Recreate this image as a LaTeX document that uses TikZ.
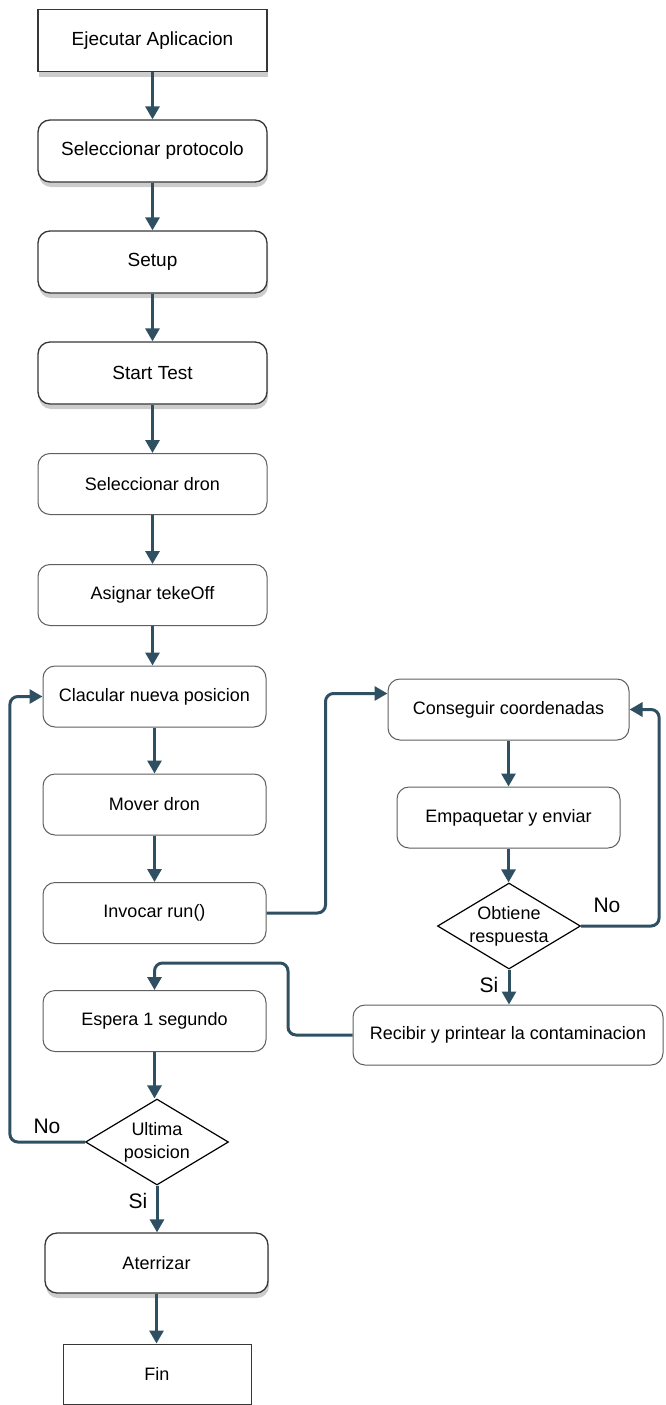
\documentclass[tikz,border=0pt]{standalone}
\usepackage{fontspec}
\setmainfont{Liberation Sans}
\usetikzlibrary{shapes.geometric,arrows.meta,shadows}

\definecolor{flowblue}{RGB}{47,79,99}
\definecolor{boxline}{RGB}{55,55,55}
\definecolor{softline}{RGB}{95,95,95}

\begin{document}
\begin{tikzpicture}[x=1pt,y=-1pt,
  every node/.style={font=\fontsize{18}{23}\selectfont},
  topbox/.style={draw=boxline, line width=1.3pt, fill=white, rounded corners=12pt,
    minimum width=229pt, minimum height=62pt, font=\fontsize{19}{23}\selectfont,
    drop shadow={shadow xshift=1pt, shadow yshift=-5pt, opacity=0.4}},
  plainbox/.style={draw=softline, line width=1pt, fill=white, rounded corners=12pt,
    minimum width=223pt, minimum height=61pt},
  decision/.style={diamond, draw=black, line width=1.2pt, fill=white, inner sep=0pt,
    minimum width=143pt, minimum height=86pt},
  flow/.style={draw=flowblue, line width=3pt, rounded corners=8pt,
    -{Triangle[width=14pt,length=13pt]}},
  answer/.style={font=\fontsize{21}{23}\selectfont}]

\useasboundingbox (0,0) rectangle (665,1405);

% Main column
\node[topbox, rounded corners=0pt] (ejecutar) at (152.5,40.5) {Ejecutar Aplicacion};
\node[topbox] (protocolo) at (152.5,151) {Seleccionar protocolo};
\node[topbox] (setup) at (152.5,262) {Setup};
\node[topbox] (starttest) at (152.5,373) {Start Test};
\node[plainbox, minimum width=229pt] (seldron) at (152.5,484) {Seleccionar dron};
\node[plainbox, minimum width=229pt] (takeoff) at (152.5,595) {Asignar tekeOff};
\node[plainbox] (clacular) at (154.5,696.5) {Clacular nueva posicion};
\node[plainbox] (mover) at (154.5,804.5) {Mover dron};
\node[plainbox] (invocar) at (154.5,913) {Invocar run()};
\node[plainbox] (espera) at (154.5,1021) {Espera 1 segundo};
\node[decision, label={[align=center]center:Ultima\\posicion}] (ultima) at (157,1142) {};
\node[topbox, minimum width=223pt, minimum height=60pt, font=\fontsize{18}{23}\selectfont] (aterrizar) at (156.5,1263) {Aterrizar};
\node[draw=boxline, line width=1pt, fill=white, minimum width=188pt, minimum height=60pt] (fin) at (157,1374) {Fin};

% Right column
\node[plainbox, minimum width=241pt] (conseguir) at (508.5,709.5) {Conseguir coordenadas};
\node[plainbox] (empaquetar) at (508.5,817.5) {Empaquetar y enviar};
\node[decision, label={[align=center]center:Obtiene\\respuesta}] (obtiene) at (509,926) {};
\node[plainbox, minimum width=310pt, minimum height=60pt] (recibir) at (508,1035) {Recibir y printear la contaminacion};

% Straight arrows
\draw[flow] (ejecutar) -- (protocolo);
\draw[flow] (protocolo) -- (setup);
\draw[flow] (setup) -- (starttest);
\draw[flow] (starttest) -- (seldron);
\draw[flow] (seldron) -- (takeoff);
\draw[flow] (takeoff.south) -- (clacular.north -| takeoff.south);
\draw[flow] (clacular) -- (mover);
\draw[flow] (mover) -- (invocar);
\draw[flow] (espera.south) -- (ultima.north -| espera.south);
\draw[flow] (ultima.south) -- (aterrizar.north -| ultima.south);
\draw[flow] (aterrizar.south) -- (fin.north -| aterrizar.south);
\draw[flow] (conseguir) -- (empaquetar);
\draw[flow] (empaquetar.south) -- (obtiene.north -| empaquetar.south);
\draw[flow] (obtiene.south) -- (recibir.north -| obtiene.south);

% Loops
\coordinate (bend) at (288,963);
\draw[flow] (invocar.east) -- ++(59,0) |- ([yshift=16pt]conseguir.west);
\draw[flow] (obtiene.east) -- ++(78,0) |- (conseguir.east);
\draw[flow] (recibir.west) -| (bend) -| (espera.north);
\draw[flow] (ultima.west) -- ++(-75,0) |- (clacular.west);

% Answers
\node[answer] (noright) at (607,905) {No};
\node[answer] (siright) at (489,985) {Si};
\node[answer] (noleft) at (47,1126) {No};
\node[answer] (sileft) at (138,1201) {Si};

\end{tikzpicture}
\end{document}
